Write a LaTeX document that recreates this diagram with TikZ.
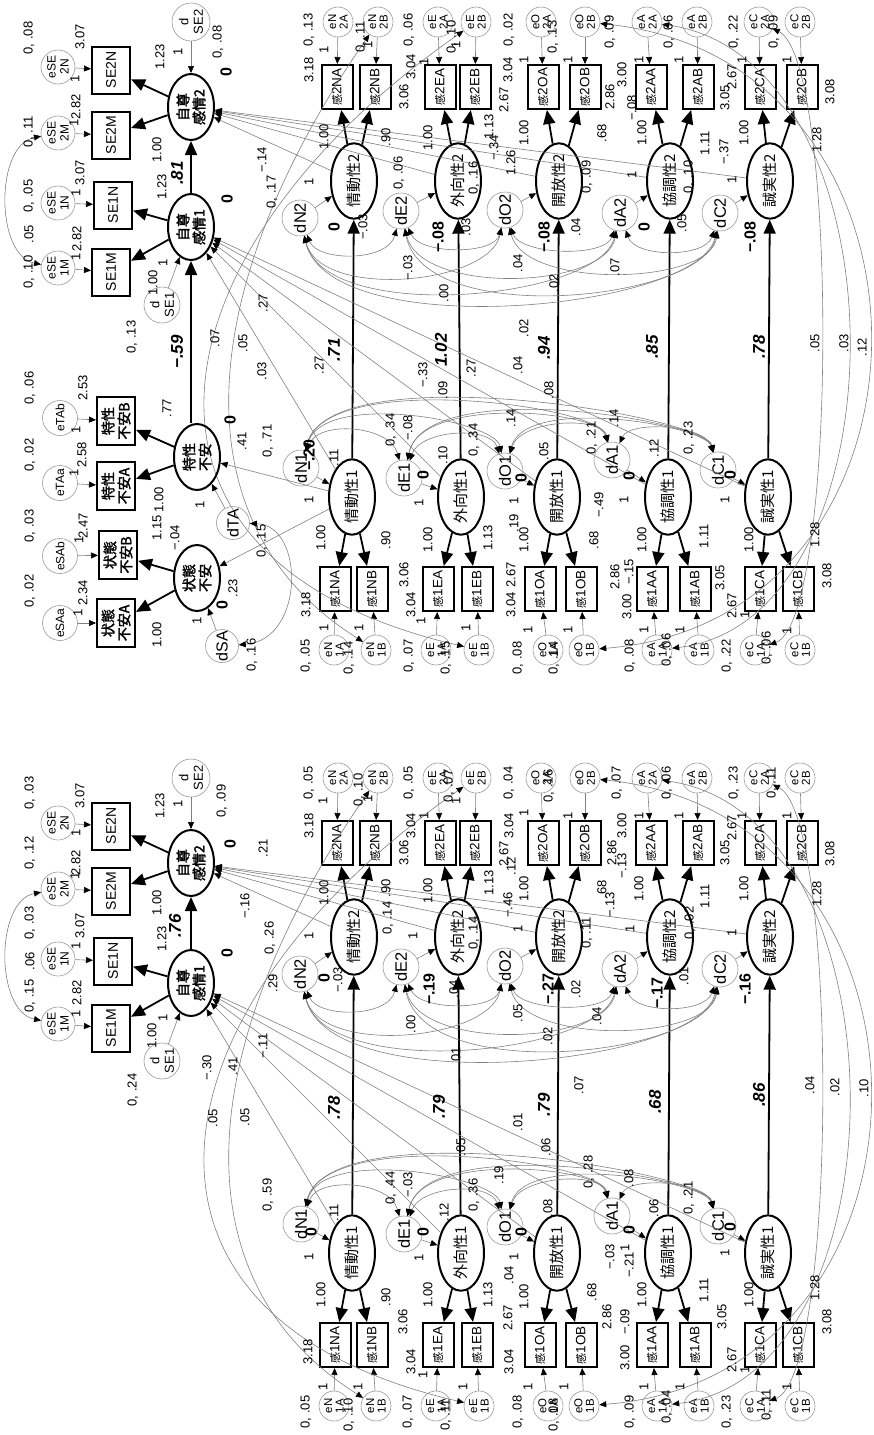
\documentclass[tikz,border=0pt]{standalone}
\usepackage{fontspec}
\setmainfont{Liberation Sans}
\newfontfamily\jp{Noto Sans CJK JP}
\newfontfamily\jpb{Noto Sans CJK JP}[FakeBold=2]
\usetikzlibrary{arrows.meta,shapes.geometric}
\newcounter{lbn}
\newcommand\lb[3][lab]{\stepcounter{lbn}\node[#1] (lb\arabic{lbn}) at (#2) {#3};}
\newcommand\fs[1]{\fontsize{#1}{#1}\selectfont}
\tikzset{
  lat/.style={ellipse,draw,line width=2pt,minimum width=66pt,minimum height=46pt,inner sep=0pt,rotate=90,font=\jp\fs{15}},
  latb/.style={lat,align=center,font=\jpb\fontsize{14}{16}\selectfont},
  obs/.style={rectangle,draw,line width=2pt,minimum width=44pt,minimum height=31pt,inner sep=0pt,rotate=90,font=\fs{13.5}},
  obsse/.style={obs,minimum width=47pt,minimum height=38pt,font=\fs{14}},
  obsj/.style={obs,minimum width=48pt,minimum height=38pt,align=center,font=\jpb\fontsize{14}{16}\selectfont},
  err/.style={circle,draw=gray!80,line width=0.6pt,minimum size=30pt,inner sep=0pt,rotate=90,align=center,font=\fontsize{11.5}{11.5}\selectfont},
  errb/.style={err,minimum size=34pt,font=\fontsize{12}{13}\selectfont},
  dis/.style={circle,draw=gray!80,line width=0.6pt,minimum size=36pt,inner sep=0pt,rotate=90,font=\fs{16.5}},
  dis2/.style={dis,align=center,font=\fontsize{13}{14.5}\selectfont},
  lab/.style={rotate=90,inner sep=0pt,font=\fs{13}},
  coef/.style={rotate=90,inner sep=0pt,font=\bfseries\itshape\fs{17}},
  mean/.style={rotate=90,inner sep=0pt,font=\bfseries\fs{16}},
  thk/.style={line width=1.8pt,-{Triangle[length=14pt,width=12pt]}},
  thn/.style={draw=gray,line width=0.6pt,-{Triangle[length=7pt,width=6pt,color=black]}},
  cov/.style={draw=gray,line width=0.6pt,{Triangle[length=7pt,width=6pt,color=black]}-{Triangle[length=7pt,width=6pt,color=black]}},
}
\newcommand\halfdiagram[1]{%
  % self-esteem block
  \node[dis2,minimum size=38pt] (#1dSE2) at (191,22) {d\\SE2};
  \node[latb] (#1SE2) at (191,107) {自尊\\感情2};
  \node[latb] (#1SE1) at (191,227) {自尊\\感情1};
  \node[dis2] (#1dSE1) at (162,305) {d\\SE1};
  \node[obsse] (#1SE2N) at (111,70) {SE2N};
  \node[obsse] (#1SE2M) at (111,135) {SE2M};
  \node[obsse] (#1SE1N) at (113,205) {SE1N};
  \node[obsse] (#1SE1M) at (111,272) {SE1M};
  \node[errb] (#1eSE2N) at (58,67) {eSE\\2N};
  \node[errb] (#1eSE2M) at (58,133) {eSE\\2M};
  \node[errb] (#1eSE1N) at (58,203) {eSE\\1N};
  \node[errb] (#1eSE1M) at (58,268) {eSE\\1M};
  \foreach \pp/\qq in {SE2/SE2N,SE2/SE2M,SE1/SE1N,SE1/SE1M}{\draw[thk] (#1\pp) -- (#1\qq);}
  \foreach \pp in {SE2N,SE2M,SE1N,SE1M}{\draw[thn] (#1e\pp) -- (#1\pp);}
  \draw[thn] (#1dSE2) -- (#1SE2);
  \draw[thn] (#1dSE1) -- (#1SE1);
  \draw[thk] (#1SE1) -- (#1SE2);
  \draw[cov] (#1eSE1M) .. controls (-5,255) and (-5,145) .. (#1eSE2M);
  % personality blocks
  \foreach \tr/\nm/\xt/\xo/\bta/\btb/\boa/\bob/\ea/\eb/\fa/\fb/\dtx/\dty/\dox/\doy in {
    N/情動性/354/352/337/375/335/372/338/378/334/376/300/218/301/468,
    E/外向性/458/461/440/475/438/477/438/476/436/479/401/211/404/478,
    O/開放性/559/557/543/585/540/581/541/585/548/584/505/210/505/471,
    A/協調性/670/668/651/698/652/695/647/697/657/699/620/213/612/460,
    C/誠実性/770/768/760/802/760/798/759/800/755/800/720/213/718/470}{
    \node[lat] (#1\tr2) at (\xt,181) {\nm2};
    \node[lat] (#1\tr1) at (\xo,497) {\nm1};
    \node[obs] (#1b\tr2A) at (\bta,87) {{\jp\fs{11}感}2\tr A};
    \node[obs] (#1b\tr2B) at (\btb,87) {{\jp\fs{11}感}2\tr B};
    \node[obs] (#1b\tr1A) at (\boa,589) {{\jp\fs{11}感}1\tr A};
    \node[obs] (#1b\tr1B) at (\bob,589) {{\jp\fs{11}感}1\tr B};
    \node[err] (#1e\tr2A) at (\ea,22) {e\tr\\2A};
    \node[err] (#1e\tr2B) at (\eb,22) {e\tr\\2B};
    \node[err] (#1e\tr1A) at (\fa,650) {e\tr\\1A};
    \node[err] (#1e\tr1B) at (\fb,650) {e\tr\\1B};
    \node[dis] (#1d\tr2) at (\dtx,\dty) {d\tr2};
    \node[dis] (#1d\tr1) at (\dox,\doy) {d\tr1};
    \draw[thk] (#1\tr2) -- (#1b\tr2A);
    \draw[thk] (#1\tr2) -- (#1b\tr2B);
    \draw[thk] (#1\tr1) -- (#1b\tr1A);
    \draw[thk] (#1\tr1) -- (#1b\tr1B);
    \draw[thn] (#1e\tr2A) -- (#1b\tr2A);
    \draw[thn] (#1e\tr2B) -- (#1b\tr2B);
    \draw[thn] (#1e\tr1A) -- (#1b\tr1A);
    \draw[thn] (#1e\tr1B) -- (#1b\tr1B);
    \draw[thn] (#1d\tr2) -- (#1\tr2);
    \draw[thn] (#1d\tr1) -- (#1\tr1);
    \draw[thk] (#1\tr1) -- (#1\tr2);
    \draw[thn] (#1\tr1) -- (#1SE1);
    \draw[thn] (#1\tr2) -- (#1SE2);
  }
  % disturbance covariances, time 2 (below)
  \draw[cov] (#1dN2) .. controls (318,262) and (388,262) .. (#1dE2);
  \draw[cov] (#1dN2) .. controls (320,300) and (490,285) .. (#1dO2);
  \draw[cov] (#1dN2) .. controls (325,325) and (600,300) .. (#1dA2);
  \draw[cov] (#1dN2) .. controls (330,345) and (700,310) .. (#1dC2);
  \draw[cov] (#1dE2) .. controls (420,255) and (495,255) .. (#1dO2);
  \draw[cov] (#1dE2) .. controls (420,295) and (605,290) .. (#1dA2);
  \draw[cov] (#1dE2) .. controls (425,330) and (705,300) .. (#1dC2);
  \draw[cov] (#1dO2) .. controls (520,255) and (605,258) .. (#1dA2);
  \draw[cov] (#1dO2) .. controls (525,290) and (710,285) .. (#1dC2);
  \draw[cov] (#1dA2) .. controls (635,258) and (705,258) .. (#1dC2);
  % disturbance covariances, time 1 (above)
  \draw[cov] (#1dN1) .. controls (318,420) and (390,425) .. (#1dE1);
  \draw[cov] (#1dN1) .. controls (322,390) and (495,420) .. (#1dO1);
  \draw[cov] (#1dN1) .. controls (326,370) and (600,405) .. (#1dA1);
  \draw[cov] (#1dN1) .. controls (330,355) and (705,415) .. (#1dC1);
  \draw[cov] (#1dE1) .. controls (420,430) and (490,425) .. (#1dO1);
  \draw[cov] (#1dE1) .. controls (420,395) and (600,410) .. (#1dA1);
  \draw[cov] (#1dE1) .. controls (425,375) and (705,420) .. (#1dC1);
  \draw[cov] (#1dO1) .. controls (520,420) and (600,415) .. (#1dA1);
  \draw[cov] (#1dO1) .. controls (525,395) and (705,425) .. (#1dC1);
  \draw[cov] (#1dA1) .. controls (630,420) and (705,425) .. (#1dC1);
  % error covariances across time
  \draw[cov] (#1eN2B) .. controls (200,280) and (170,520) .. (#1eN1B);
  \draw[cov] (#1eE2B) .. controls (150,250) and (90,560) .. (#1eE1B);
  \draw[cov] (#1eO2B) .. controls (960,60) and (960,620) .. (#1eO1B);
  \draw[cov] (#1eA2A) .. controls (909,60) and (909,620) .. (#1eA1A);
  \draw[cov] (#1eC2A) .. controls (838,60) and (838,620) .. (#1eC1A);
}
\begin{document}
\begin{tikzpicture}[x=1pt,y=-1pt]
\useasboundingbox (0,0) rectangle (873,1435);
\halfdiagram{T}
\begin{scope}[yshift=-756pt]
\halfdiagram{B}
\end{scope}
% anxiety block (top only)
\node[latb] (TTA) at (197,457) {特性\\不安};
\node[latb] (TSA) at (197,578) {状態\\不安};
\node[obsj] (TTAB) at (116,421) {特性\\不安B};
\node[obsj] (TTAA) at (116,486) {特性\\不安A};
\node[obsj] (TSAB) at (118,555) {状態\\不安B};
\node[obsj] (TSAA) at (116,623) {状態\\不安A};
\node[err,minimum size=35pt,font=\fs{12}] (TeTAb) at (60,418) {eTAb};
\node[err,minimum size=35pt,font=\fs{12}] (TeTAa) at (60,483) {eTAa};
\node[err,minimum size=35pt,font=\fs{12}] (TeSAb) at (60,556) {eSAb};
\node[err,minimum size=35pt,font=\fs{12}] (TeSAa) at (60,623) {eSAa};
\node[dis,minimum size=33pt,font=\fs{16}] (TdTA) at (233,523) {dTA};
\node[dis,minimum size=33pt,font=\fs{16}] (TdSA) at (222,646) {dSA};
\draw[thk] (TTA) -- (TTAB);
\draw[thk] (TTA) -- (TTAA);
\draw[thk] (TSA) -- (TSAB);
\draw[thk] (TSA) -- (TSAA);
\draw[thn] (TeTAb) -- (TTAB);
\draw[thn] (TeTAa) -- (TTAA);
\draw[thn] (TeSAb) -- (TSAB);
\draw[thn] (TeSAa) -- (TSAA);
\draw[thn] (TdTA) -- (TTA);
\draw[thn] (TdSA) -- (TSA);
\draw[thk] (TTA.east -| TSE1) -- (TSE1);
\draw[cov] (TdSA) .. controls (305,640) and (305,525) .. (TdTA);
\draw[thn] (TN1) -- (TTA);
\draw[thn] (TN1) -- (TSA);
% ---------- labels, top ----------
\lb{29,38}{0, .08}
\lb{80,37}{3.07}
\lb{75,79}{1}
\lb{160,57}{1.23}
\lb{178,52}{1}
\lb{218,42}{0, .08}
\lb[mean]{226,72}{0}
\lb{29,132}{0, .11}
\lb{76,107}{2.82}
\lb{74,123}{1}
\lb{157,150}{1.00}
\lb[coef]{177,173}{.81}
\lb{162,187}{1.23}
\lb{80,173}{3.07}
\lb{76,193}{1}
\lb{29,196}{0, .05}
\lb{29,234}{.05}
\lb{77,239}{2.82}
\lb{76,257}{1}
\lb{29,272}{0, .10}
\lb{153,283}{1.00}
\lb{163,263}{1}
\lb{132,337}{0, .13}
\lb[coef]{177,352}{−.59}
\lb[mean]{227,199}{0}
\lb{262,160}{−.14}
\lb{272,192}{0, .17}
\lb{263,303}{.27}
\lb{215,338}{.07}
\lb{243,343}{.05}
\lb{30,388}{0, .06}
\lb{83,388}{2.53}
\lb{167,408}{.77}
\lb{76,430}{1}
\lb{30,455}{0, .02}
\lb{82,455}{2.58}
\lb{74,473}{1}
\lb{159,500}{1.00}
\lb{30,526}{0, .03}
\lb{83,526}{2.47}
\lb{79,540}{1}
\lb{157,528}{1.15}
\lb{175,538}{−.04}
\lb{200,505}{1}
\lb{30,591}{0, .02}
\lb{83,593}{2.34}
\lb{78,613}{1}
\lb{157,635}{1.00}
\lb{197,621}{1}
\lb[mean]{230,420}{0}
\lb{242,441}{.41}
\lb{268,441}{0, .71}
\lb{262,541}{0, .15}
\lb{262,371}{.03}
\lb[mean]{222,605}{0}
\lb{233,588}{.23}
\lb{252,655}{0, .16}
\lb{309,70}{3.18}
\lb{309,30}{0, .13}
\lb{324,50}{1}
\lb{361,37}{0, .11}
\lb{368,45}{1}
\lb{404,97}{3.06}
\lb{411,67}{3.04}
\lb{409,30}{0, .06}
\lb{424,62}{1}
\lb{452,37}{0, .10}
\lb{456,45}{1}
\lb{504,100}{2.67}
\lb{508,70}{3.04}
\lb{509,30}{0, .02}
\lb{524,60}{1}
\lb{553,37}{0, .13}
\lb{568,60}{1}
\lb{610,32}{0, .09}
\lb{610,97}{2.86}
\lb{622,75}{3.00}
\lb{632,108}{−.08}
\lb{639,60}{1}
\lb{669,32}{0, .06}
\lb{679,60}{1}
\lb{725,98}{3.05}
\lb{732,77}{2.67}
\lb{734,32}{0, .22}
\lb{742,60}{1}
\lb{774,32}{0, .09}
\lb{787,60}{1}
\lb{830,92}{3.08}
\lb{324,137}{1.00}
\lb{386,137}{.90}
\lb{428,138}{1.00}
\lb{489,127}{1.13}
\lb{494,148}{−.34}
\lb{511,163}{1.26}
\lb{524,133}{1.00}
\lb{602,133}{.68}
\lb{642,133}{1.00}
\lb{705,143}{1.11}
\lb{724,152}{−.37}
\lb{744,133}{1.00}
\lb{817,140}{1.28}
\lb{309,182}{1}
\lb{399,173}{0, .06}
\lb{474,178}{0, .16}
\lb{587,177}{0, .09}
\lb{632,175}{1}
\lb{689,177}{0, .10}
\lb{732,180}{1}
\lb[mean]{334,227}{0}
\lb{363,227}{−.03}
\lb{466,227}{.03}
\lb[mean]{438,237}{−.08}
\lb{576,227}{.04}
\lb[mean]{544,237}{−.08}
\lb[mean]{644,227}{0}
\lb{682,223}{.05}
\lb[mean]{750,237}{−.08}
\lb{408,268}{−.03}
\lb{518,263}{.04}
\lb{444,293}{.00}
\lb{554,283}{.02}
\lb{524,328}{.02}
\lb{615,267}{.07}
\lb[coef]{334,350}{.71}
\lb[coef]{441,350}{1.02}
\lb[coef]{544,348}{.94}
\lb[coef]{652,347}{.85}
\lb[coef]{759,347}{.78}
\lb{815,343}{.05}
\lb{844,343}{.03}
\lb{862,347}{.12}
\lb{319,365}{.27}
\lb{423,375}{−.33}
\lb{443,390}{.09}
\lb{471,368}{.27}
\lb{518,365}{.04}
\lb{549,390}{.08}
\lb{391,430}{0, .34}
\lb{408,428}{−.08}
\lb[mean]{309,455}{−.20}
\lb{334,458}{.11}
\lb{309,500}{1}
\lb[mean]{423,475}{0}
\lb{443,455}{.10}
\lb{474,440}{0, .34}
\lb{511,418}{.14}
\lb{544,451}{.05}
\lb[mean]{521,478}{0}
\lb{419,503}{1}
\lb{514,501}{1}
\lb{321,538}{1.00}
\lb{386,540}{.90}
\lb{428,540}{1.00}
\lb{488,538}{1.13}
\lb{514,523}{.19}
\lb{524,540}{1.00}
\lb{306,605}{3.18}
\lb{404,575}{3.06}
\lb{411,605}{3.04}
\lb{511,575}{2.67}
\lb{511,605}{3.04}
\lb{324,628}{1}
\lb{359,628}{1}
\lb{421,621}{1}
\lb{466,628}{1}
\lb{528,630}{1}
\lb{568,630}{1}
\lb{306,656}{0, .05}
\lb{349,658}{0, .14}
\lb{409,656}{0, .07}
\lb{446,658}{0, .15}
\lb{518,658}{0, .08}
\lb{554,658}{0, .14}
\lb{592,438}{0, .21}
\lb{614,418}{.14}
\lb{654,448}{.12}
\lb{689,438}{0, .23}
\lb[mean]{629,476}{0}
\lb[mean]{730,475}{0}
\lb{624,500}{1}
\lb{725,500}{1}
\lb{599,505}{−.49}
\lb{594,540}{.68}
\lb{642,540}{1.00}
\lb{704,536}{1.11}
\lb{749,540}{1.00}
\lb{815,535}{1.28}
\lb{615,577}{2.86}
\lb{627,607}{3.00}
\lb{629,572}{−.15}
\lb{720,578}{3.05}
\lb{732,606}{2.67}
\lb{827,576}{3.08}
\lb{644,630}{1}
\lb{680,630}{1}
\lb{745,615}{1}
\lb{787,631}{1}
\lb{630,656}{0, .08}
\lb{667,650}{0, .06}
\lb{727,656}{0, .22}
\lb{767,648}{0, .06}
% ---------- labels, bottom ----------
\lb{30,793}{0, .03}
\lb{80,796}{3.07}
\lb{76,833}{1}
\lb{160,806}{1.23}
\lb{178,804}{1}
\lb{222,801}{0, .09}
\lb[mean]{230,844}{0}
\lb{263,848}{.21}
\lb{30,853}{0, .12}
\lb{76,863}{2.82}
\lb{75,876}{1}
\lb{157,903}{1.00}
\lb[coef]{175,926}{.76}
\lb{162,939}{1.23}
\lb{245,906}{−.16}
\lb{270,938}{0, .26}
\lb[mean]{227,953}{0}
\lb{273,983}{.29}
\lb{30,923}{0, .03}
\lb{30,961}{.06}
\lb{80,926}{3.07}
\lb{76,946}{1}
\lb{30,996}{0, .15}
\lb{77,993}{2.82}
\lb{76,1014}{1}
\lb{152,1036}{1.00}
\lb{163,1018}{1}
\lb{207,1068}{−.30}
\lb{233,1066}{.41}
\lb{263,1046}{−.11}
\lb{133,1090}{0, .24}
\lb{213,1118}{.05}
\lb{245,1117}{.05}
\lb{268,1195}{0, .59}
\lb{309,826}{3.18}
\lb{309,783}{0, .05}
\lb{323,801}{1}
\lb{359,790}{0, .10}
\lb{368,799}{1}
\lb{404,853}{3.06}
\lb{411,826}{3.04}
\lb{409,783}{0, .05}
\lb{424,816}{1}
\lb{449,786}{0, .07}
\lb{456,801}{1}
\lb{504,854}{2.67}
\lb{511,866}{.12}
\lb{509,826}{3.04}
\lb{509,783}{0, .04}
\lb{524,813}{1}
\lb{549,786}{0, .16}
\lb{568,816}{1}
\lb{617,783}{0, .07}
\lb{612,853}{2.86}
\lb{622,826}{3.00}
\lb{622,866}{−.13}
\lb{610,905}{−.13}
\lb{639,816}{1}
\lb{667,783}{0, .06}
\lb{679,816}{1}
\lb{725,853}{3.05}
\lb{732,828}{2.67}
\lb{734,783}{0, .23}
\lb{742,816}{1}
\lb{772,783}{0, .11}
\lb{787,816}{1}
\lb{830,854}{3.08}
\lb{324,893}{1.00}
\lb{386,888}{.90}
\lb{388,918}{0, .14}
\lb{309,936}{1}
\lb{413,936}{1}
\lb{428,891}{1.00}
\lb{489,883}{1.13}
\lb{474,933}{0, .14}
\lb{508,905}{−.46}
\lb{524,889}{1.00}
\lb{518,929}{1}
\lb{602,889}{.68}
\lb{639,889}{1.00}
\lb{705,896}{1.11}
\lb{744,889}{1.00}
\lb{817,894}{1.28}
\lb{587,933}{0, .11}
\lb{630,929}{1}
\lb{690,923}{0, .02}
\lb{732,933}{1}
\lb[mean]{324,978}{0}
\lb{338,980}{−.03}
\lb[mean]{429,989}{−.19}
\lb{454,989}{.04}
\lb[mean]{548,989}{−.27}
\lb{576,989}{.02}
\lb{684,976}{.01}
\lb[mean]{657,993}{−.17}
\lb[mean]{745,989}{−.16}
\lb{411,1024}{.00}
\lb{518,1013}{.05}
\lb{548,1036}{.02}
\lb{456,1056}{.01}
\lb{597,1016}{.04}
\lb[coef]{334,1108}{.78}
\lb[coef]{439,1107}{.79}
\lb[coef]{544,1105}{.79}
\lb[coef]{655,1102}{.68}
\lb[coef]{759,1095}{.86}
\lb{461,1147}{.05}
\lb{518,1122}{.01}
\lb{546,1147}{.06}
\lb{579,1085}{.07}
\lb{810,1085}{.04}
\lb{835,1087}{.02}
\lb{864,1088}{.10}
\lb{391,1188}{0, .44}
\lb{408,1185}{−.03}
\lb{334,1213}{.11}
\lb{444,1212}{.12}
\lb{474,1195}{0, .36}
\lb{499,1175}{.19}
\lb{548,1208}{.08}
\lb[mean]{311,1232}{0}
\lb[mean]{423,1232}{0}
\lb[mean]{521,1232}{0}
\lb{309,1257}{1}
\lb{419,1258}{1}
\lb{514,1257}{1}
\lb{321,1295}{1.00}
\lb{386,1297}{.90}
\lb{428,1295}{1.00}
\lb{488,1295}{1.13}
\lb{509,1275}{.04}
\lb{524,1297}{1.00}
\lb{508,1318}{2.67}
\lb{509,1362}{3.04}
\lb{308,1352}{3.18}
\lb{403,1322}{3.06}
\lb{411,1362}{3.04}
\lb{323,1387}{1}
\lb{358,1387}{1}
\lb{423,1375}{1}
\lb{463,1387}{1}
\lb{528,1387}{1}
\lb{564,1387}{1}
\lb{306,1412}{0, .05}
\lb{349,1415}{0, .10}
\lb{408,1412}{0, .07}
\lb{446,1415}{0, .11}
\lb{518,1412}{0, .08}
\lb{554,1415}{0, .08}
\lb{589,1172}{0, .28}
\lb{629,1178}{.08}
\lb{654,1208}{.06}
\lb{689,1198}{0, .21}
\lb[mean]{629,1230}{0}
\lb[mean]{730,1227}{0}
\lb{610,1257}{−.03}
\lb{629,1265}{−.21}
\lb{625,1248}{1}
\lb{725,1253}{1}
\lb{592,1292}{.68}
\lb{642,1295}{1.00}
\lb{704,1290}{1.11}
\lb{749,1295}{1.00}
\lb{815,1288}{1.28}
\lb{607,1317}{2.86}
\lb{625,1322}{−.09}
\lb{625,1358}{3.00}
\lb{722,1317}{3.05}
\lb{732,1360}{2.67}
\lb{827,1322}{3.08}
\lb{644,1387}{1}
\lb{680,1387}{1}
\lb{745,1370}{1}
\lb{787,1387}{1}
\lb{630,1412}{0, .09}
\lb{667,1407}{0, .04}
\lb{727,1412}{0, .23}
\lb{767,1405}{0, .11}
\end{tikzpicture}
\end{document}
